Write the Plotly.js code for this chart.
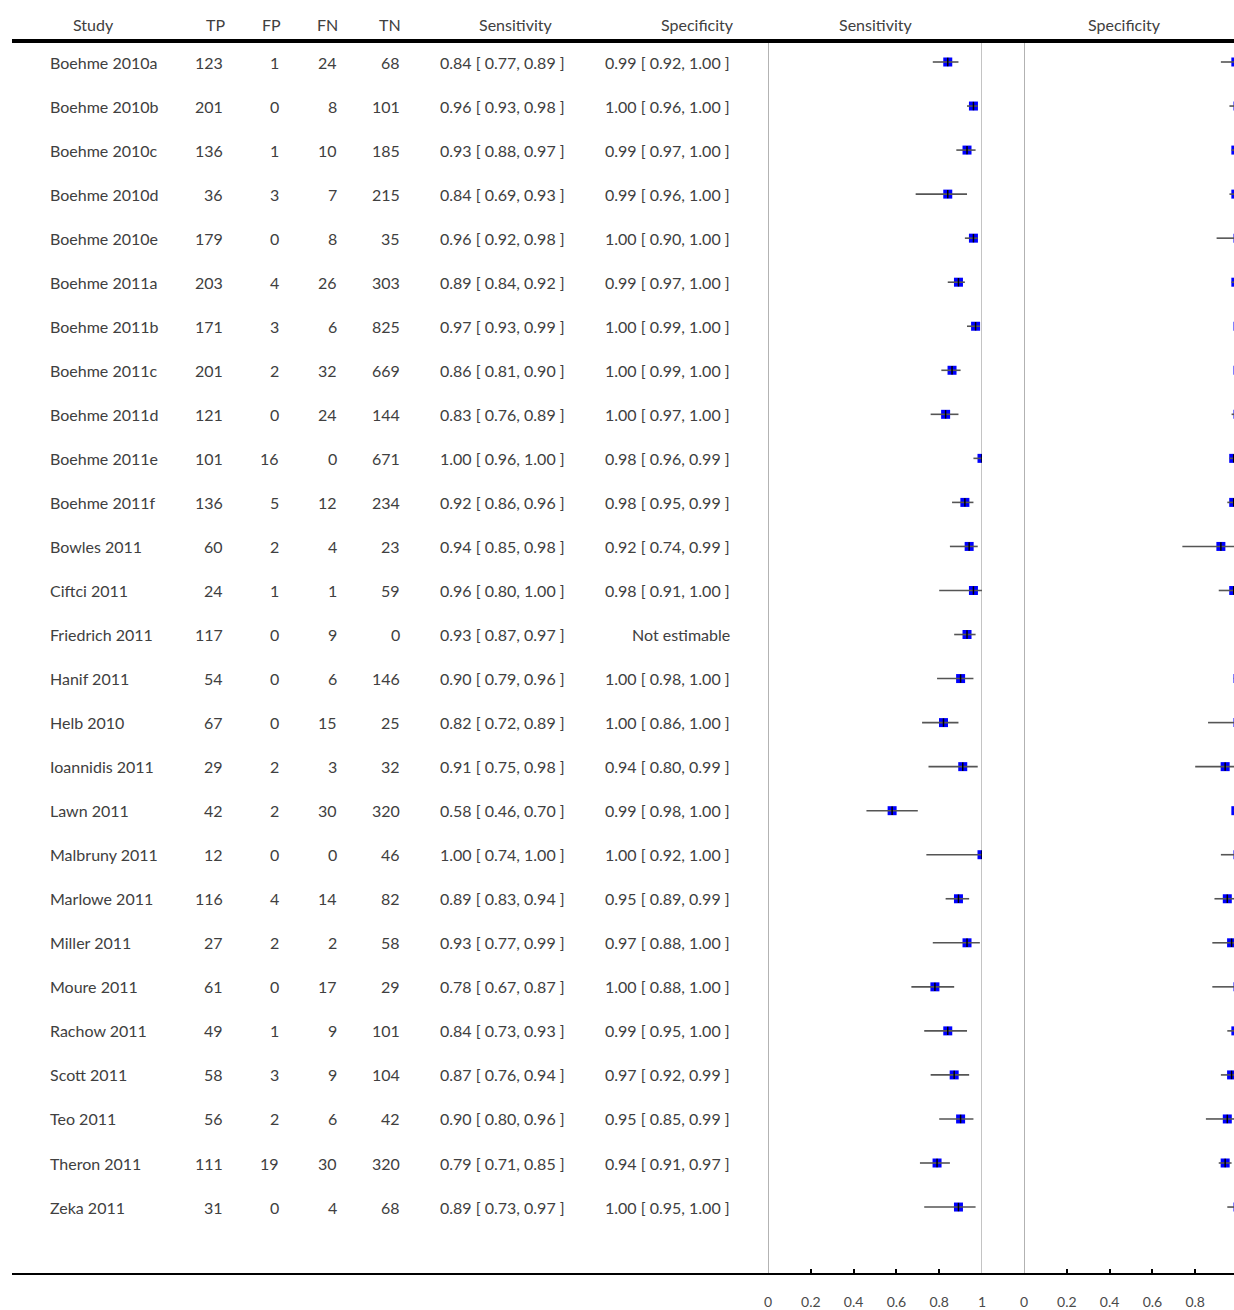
<!DOCTYPE html>
<html>
<head>
<meta charset="utf-8">
<script src="https://cdn.plot.ly/plotly-3.0.1.min.js"></script>
<style>
  html, body { margin: 0; padding: 0; background: #fff; }
  #chart { width: 1234px; height: 1310px; }
</style>
</head>
<body>
<div id="chart"></div>
<script>
// Xpert MTB/RIF accuracy per study: 2x2 counts with sensitivity / specificity and 95% CIs
const studies = [
  "Boehme 2010a", "Boehme 2010b", "Boehme 2010c", "Boehme 2010d", "Boehme 2010e",
  "Boehme 2011a", "Boehme 2011b", "Boehme 2011c", "Boehme 2011d", "Boehme 2011e",
  "Boehme 2011f", "Bowles 2011", "Ciftci 2011", "Friedrich 2011", "Hanif 2011",
  "Helb 2010", "Ioannidis 2011", "Lawn 2011", "Malbruny 2011", "Marlowe 2011",
  "Miller 2011", "Moure 2011", "Rachow 2011", "Scott 2011", "Teo 2011",
  "Theron 2011", "Zeka 2011"
];
const tp = [123, 201, 136, 36, 179, 203, 171, 201, 121, 101, 136, 60, 24, 117, 54, 67, 29, 42, 12, 116, 27, 61, 49, 58, 56, 111, 31];
const fp = [1, 0, 1, 3, 0, 4, 3, 2, 0, 16, 5, 2, 1, 0, 0, 0, 2, 2, 0, 4, 2, 0, 1, 3, 2, 19, 0];
const fn = [24, 8, 10, 7, 8, 26, 6, 32, 24, 0, 12, 4, 1, 9, 6, 15, 3, 30, 0, 14, 2, 17, 9, 9, 6, 30, 4];
const tn = [68, 101, 185, 215, 35, 303, 825, 669, 144, 671, 234, 23, 59, 0, 146, 25, 32, 320, 46, 82, 58, 29, 101, 104, 42, 320, 68];

const sens   = [0.84, 0.96, 0.93, 0.84, 0.96, 0.89, 0.97, 0.86, 0.83, 1.00, 0.92, 0.94, 0.96, 0.93, 0.90, 0.82, 0.91, 0.58, 1.00, 0.89, 0.93, 0.78, 0.84, 0.87, 0.90, 0.79, 0.89];
const sensLo = [0.77, 0.93, 0.88, 0.69, 0.92, 0.84, 0.93, 0.81, 0.76, 0.96, 0.86, 0.85, 0.80, 0.87, 0.79, 0.72, 0.75, 0.46, 0.74, 0.83, 0.77, 0.67, 0.73, 0.76, 0.80, 0.71, 0.73];
const sensHi = [0.89, 0.98, 0.97, 0.93, 0.98, 0.92, 0.99, 0.90, 0.89, 1.00, 0.96, 0.98, 1.00, 0.97, 0.96, 0.89, 0.98, 0.70, 1.00, 0.94, 0.99, 0.87, 0.93, 0.94, 0.96, 0.85, 0.97];

// null = not estimable (no non-TB cases)
const spec   = [0.99, 1.00, 0.99, 0.99, 1.00, 0.99, 1.00, 1.00, 1.00, 0.98, 0.98, 0.92, 0.98, null, 1.00, 1.00, 0.94, 0.99, 1.00, 0.95, 0.97, 1.00, 0.99, 0.97, 0.95, 0.94, 1.00];
const specLo = [0.92, 0.96, 0.97, 0.96, 0.90, 0.97, 0.99, 0.99, 0.97, 0.96, 0.95, 0.74, 0.91, null, 0.98, 0.86, 0.80, 0.98, 0.92, 0.89, 0.88, 0.88, 0.95, 0.92, 0.85, 0.91, 0.95];
const specHi = [1.00, 1.00, 1.00, 1.00, 1.00, 1.00, 1.00, 1.00, 1.00, 0.99, 0.99, 0.99, 1.00, null, 1.00, 1.00, 0.99, 1.00, 1.00, 0.99, 1.00, 1.00, 1.00, 0.99, 0.99, 0.97, 1.00];

const headers = ["Study", "TP", "FP", "FN", "TN", "Sensitivity", "Specificity", "Sensitivity", "Specificity"];
const tickVals = [0, 0.2, 0.4, 0.6, 0.8, 1];
const tickText = ["0", "0.2", "0.4", "0.6", "0.8", "1"];

// ---- geometry (pixels in a 1234 x 1310 page) ----
const W = 1234, H = 1310;
const rowTop = 62, rowStep = 44.04, plotBottom = 1275;
const yTop = -rowTop / rowStep;
const yBottom = (plotBottom - rowTop) / rowStep;
const yOf = px => (px - rowTop) / rowStep;
const px = p => p / W;

const rows = studies.map((_, i) => i);
const fmt = v => v.toFixed(2);
const ciText = (e, lo, hi) => e === null ? "Not estimable" : `${fmt(e)} [ ${fmt(lo)}, ${fmt(hi)} ]`;

const FONT = "Lato, 'Open Sans', sans-serif";
const TXT = "#404040";

function forest(est, lo, hi, xa) {
  const plus = est.map((e, i) => e === null ? null : hi[i] - e);
  const minus = est.map((e, i) => e === null ? null : e - lo[i]);
  return [
    {
      type: "scatter", mode: "markers", xaxis: xa, yaxis: "y",
      x: est, y: rows, hoverinfo: "skip",
      marker: { symbol: "square", size: 9, color: "#0000ff", line: { width: 0 } }
    },
    {
      type: "scatter", mode: "markers", xaxis: xa, yaxis: "y",
      x: est, y: rows, hoverinfo: "skip",
      marker: { symbol: "line-ns", size: 6, color: "#000", line: { color: "#000", width: 1.5 } },
      error_x: { type: "data", symmetric: false, array: plus, arrayminus: minus,
                 width: 0, thickness: 1.6, color: "#555" }
    }
  ];
}

const data = [...forest(sens, sensLo, sensHi, "x"), ...forest(spec, specLo, specHi, "x2")];

// ---- table text ----
const annotations = [];
const addCol = (vals, xpx, anchor) => vals.forEach((v, i) => annotations.push({
  xref: "paper", yref: "y", x: px(xpx), y: i, text: String(v),
  xanchor: anchor, yanchor: "middle", showarrow: false,
  font: { family: FONT, size: 16, color: TXT }
}));
addCol(studies, 48, "left");
addCol(tp, 225, "right");
addCol(fp, 281, "right");
addCol(fn, 339, "right");
addCol(tn, 402, "right");
addCol(sens.map((e, i) => ciText(e, sensLo[i], sensHi[i])), 567, "right");
addCol(spec.map((e, i) => ciText(e, specLo[i], specHi[i])), 732, "right");

const headerX = [93, 215, 271, 327, 390, 515, 697, 875, 1124];
headers.forEach((h, k) => annotations.push({
  xref: "paper", yref: "y", x: px(headerX[k]), y: yOf(24), text: h,
  xanchor: "center", yanchor: "middle", showarrow: false,
  font: { family: FONT, size: 16, color: TXT }
}));

// ---- rules and reference lines ----
const shapes = [
  { type: "line", xref: "paper", yref: "y", x0: px(12), x1: 1, y0: yOf(41), y1: yOf(41),
    line: { color: "#000", width: 4 } },
  { type: "line", xref: "paper", yref: "y", x0: px(12), x1: 1, y0: yBottom, y1: yBottom,
    line: { color: "#000", width: 4 } },
  { type: "line", xref: "x", yref: "y", x0: 0, x1: 0, y0: yOf(43), y1: yBottom,
    line: { color: "#8a8a8a", width: 1.3 }, layer: "below" },
  { type: "line", xref: "x", yref: "y", x0: 1, x1: 1, y0: yOf(43), y1: yBottom,
    line: { color: "#c4c4c4", width: 2 }, layer: "below" },
  { type: "line", xref: "x2", yref: "y", x0: 0, x1: 0, y0: yOf(43), y1: yBottom,
    line: { color: "#999", width: 1.5 }, layer: "below" }
];

const axisCommon = {
  showgrid: false, zeroline: false, showline: false, fixedrange: true,
  ticks: "inside", ticklen: 6, tickwidth: 2, tickcolor: "#000",
  tickvals: tickVals, ticktext: tickText, ticklabelstandoff: 17,
  tickfont: { family: FONT, size: 14, color: "#4a4a4a" }, anchor: "y"
};

const layout = {
  width: W, height: H,
  margin: { l: 0, r: 0, t: 0, b: 0, pad: 0 },
  paper_bgcolor: "#fff", plot_bgcolor: "rgba(0,0,0,0)",
  showlegend: false,
  xaxis: Object.assign({}, axisCommon, { domain: [px(768), px(982)], range: [0, 1] }),
  xaxis2: Object.assign({}, axisCommon, { domain: [px(1024), 1], range: [0, (W - 1024) / 214] }),
  yaxis: { domain: [(H - plotBottom) / H, 1], range: [yBottom, yTop], autorange: false,
           showgrid: false, zeroline: false, showline: false, showticklabels: false,
           ticks: "", fixedrange: true },
  shapes: shapes,
  annotations: annotations
};

Plotly.newPlot("chart", data, layout, { displayModeBar: false, staticPlot: true });
</script>
</body>
</html>
